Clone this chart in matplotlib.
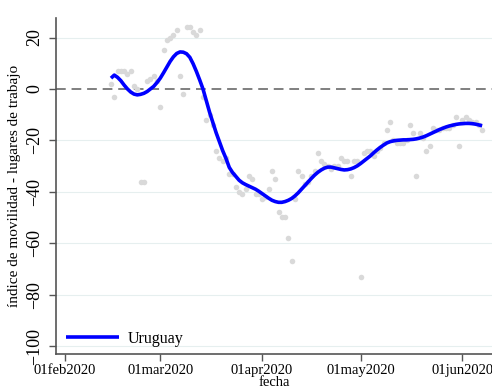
import numpy as np
import pandas as pd
import matplotlib
matplotlib.use('Agg')
import matplotlib.pyplot as plt
import matplotlib.dates as mdates
from matplotlib.ticker import FuncFormatter

# indice de movilidad diario (lugares de trabajo), Uruguay, desde 15feb2020
movilidad = [
    2, -3, 7, 7, 7, 6, 7, 1, 0, -36, -36, 3, 4, 5, 3, -7,
    15, 19, 20, 21, 23, 5, -2, 24, 24, 22, 21, 23, -3, -12,
    -10, -14, -24, -27, -28, -27, -33, -33, -38, -40, -41, -39, -34, -35,
    -41, -41, -43, -42, -39, -32, -35, -48, -50, -50, -58, -67, -43, -32,
    -34, -37, -36, -34, -32, -25, -28, -29, -30, -31, -30, -30, -27, -28,
    -28, -34, -28, -28, -73, -25, -24, -24, -26, -24, -23, -21, -16, -13,
    -20, -21, -21, -21, -20, -14, -17, -34, -17, -19, -24, -22, -15, -16,
    -16, -15, -15, -15, -14, -11, -22, -12, -11, -12, -13, -13, -14, -16,
]

# curva suavizada
suavizado = [
    4.2, 5.4, 4.5, 3.2, 1.5, 0.0, -1.2, -2.0, -2.3, -2.1, -1.7, -1.0, 0.0, 1.0,
    2.5, 4.2, 6.3, 8.5, 10.7, 12.5, 13.8, 14.4, 14.3, 13.7, 12.3, 9.8, 6.8, 3.5,
    0.0, -4.5, -9.0, -13.0, -17.0, -20.5, -24.0, -27.0, -30.5, -32.5, -34.0, -35.5,
    -36.5, -37.2, -37.8, -38.4, -39.0, -39.8, -40.7, -41.6, -42.5, -43.3, -43.8,
    -44.1, -44.1, -43.8, -43.3, -42.6, -41.6, -40.4, -39.0, -37.6, -36.2, -34.8,
    -33.5, -32.4, -31.5, -30.8, -30.4, -30.4, -30.7, -31.0, -31.3, -31.5, -31.4,
    -31.1, -30.6, -29.9, -29.0, -28.0, -27.0, -26.0, -24.8, -23.7, -22.7, -21.8,
    -21.0, -20.5, -20.2, -20.0, -19.9, -19.8, -19.8, -19.7, -19.6, -19.4, -19.1,
    -18.7, -18.2, -17.6, -17.0, -16.4, -15.8, -15.3, -14.8, -14.4, -14.1, -13.8,
    -13.6, -13.5, -13.4, -13.4, -13.5, -13.7, -14.0, -14.3,
]

fechas = pd.date_range('2020-02-15', periods=len(movilidad), freq='D')
ticks_fecha = pd.to_datetime(['2020-02-01', '2020-03-01', '2020-04-01',
                              '2020-05-01', '2020-06-01'])
ticks_y = [-100, -80, -60, -40, -20, 0, 20]

plt.rcParams['font.family'] = ['Liberation Serif', 'DejaVu Serif']

fig = plt.figure(figsize=(4.92, 3.88), dpi=100)
ax = fig.add_axes([56 / 492, 34 / 388, 436 / 492, 336 / 388])

ax.scatter(fechas, movilidad, s=16, color='#d9d9d9', linewidths=0, zorder=2)
ax.plot(fechas, suavizado, color='#0000ff', lw=2.6, zorder=3,
        solid_capstyle='butt', label='Uruguay')
ax.axhline(0, color='#7f7f7f', lw=1.4, ls=(0, (5, 3)), zorder=1)

for v in ticks_y:
    if v != 0:
        ax.axhline(v, color='#e6efef', lw=0.8, zorder=0)

inicio = pd.Timestamp('2020-02-01')
ax.set_xlim(inicio - pd.Timedelta(days=2.75), inicio + pd.Timedelta(days=130))
ax.set_ylim(-103.1, 27.6)

ax.set_xticks(ticks_fecha)
ax.xaxis.set_major_formatter(FuncFormatter(
    lambda x, pos: mdates.num2date(x).strftime('%d%b%Y').lower()))
ax.set_yticks(ticks_y)

ax.tick_params(axis='x', labelsize=10.5, length=5, width=1, color='#555555', pad=2)
ax.tick_params(axis='y', labelsize=13, length=5, width=1, color='#555555',
               pad=4, labelrotation=90)
for t in ax.get_yticklabels():
    t.set_va('center')

for s in ['top', 'right']:
    ax.spines[s].set_visible(False)
for s in ['left', 'bottom']:
    ax.spines[s].set_color('#555555')
    ax.spines[s].set_linewidth(1.2)

ax.set_ylabel('índice de movilidad - lugares de trabajo', fontsize=11, labelpad=4)
ax.set_xlabel('fecha', fontsize=10.5)
ax.xaxis.set_label_coords(0.5, -0.064)

ax.legend(loc='lower left', bbox_to_anchor=(-0.003, -0.012), frameon=False,
          fontsize=11.5, handlelength=3.3, handletextpad=0.55, borderaxespad=0.3)

fig.savefig('out.png', dpi=100)
